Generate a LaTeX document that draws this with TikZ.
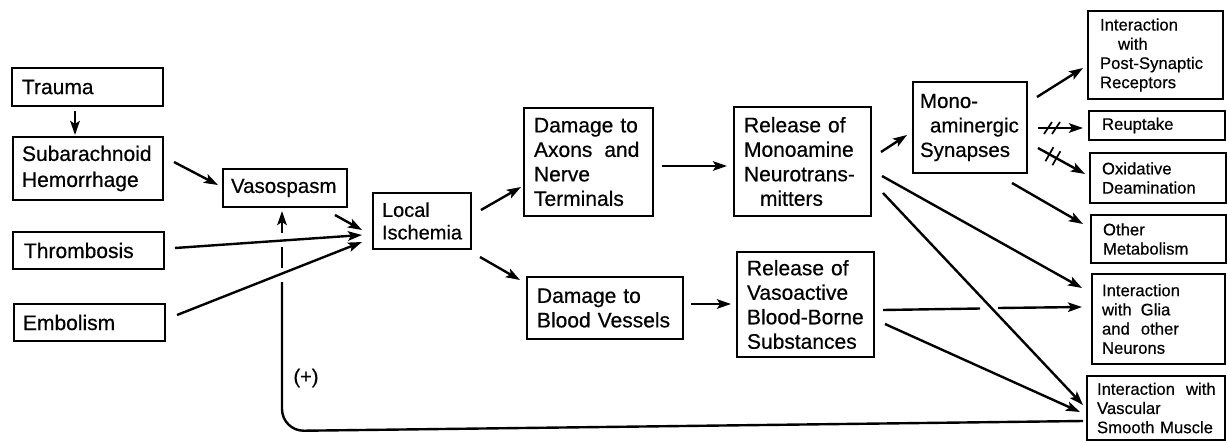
\documentclass[tikz,border=0pt]{standalone}
\usepackage{fontspec}
\setmainfont{Liberation Sans}[FakeBold=0.5]
\usetikzlibrary{arrows.meta}
\hyphenpenalty=10000
\exhyphenpenalty=10000
\begin{document}
\begin{tikzpicture}[x=1pt,y=-1pt,
  box/.style={draw, line width=1.6pt, anchor=north west, align=left, inner ysep=2pt, outer sep=0pt},
  big/.style={font=\fontsize{21}{26}\selectfont},
  mid/.style={font=\fontsize{21}{24.5}\selectfont},
  sml/.style={font=\fontsize{16.7}{19.2}\selectfont},
  arr/.style={line width=2.4pt, -{Stealth[length=14pt,width=9.5pt,inset=3pt]}},
  ln/.style={line width=2.4pt},
  hash/.style={line width=1.7pt}]
\fill[white] (0,0) rectangle (1227,442);
\useasboundingbox (0,0) rectangle (1227,442);

% left column
\node[box,big,inner xsep=10pt,text width=131pt,minimum height=38pt] (trauma) at (12,68) {Trauma};
\node[box,big,inner xsep=9pt,text width=132pt,minimum height=63pt] (sub) at (13,137) {Subarachnoid\\Hemorrhage};
\node[box,font=\fontsize{20.5}{25}\selectfont,inner xsep=8pt,text width=108pt,minimum height=38pt] (vaso) at (223,169) {Vasospasm};
\node[box,big,inner xsep=11pt,text width=129pt,minimum height=37pt] (thromb) at (13,232) {Thrombosis};
\node[box,big,inner xsep=9pt,text width=133pt,minimum height=37pt] (embol) at (14,304) {Embolism};
\node[box,font=\fontsize{20}{22.5}\selectfont,inner xsep=9pt,text width=80pt,minimum height=56pt] (local) at (373,193) {Local\\Ischemia};

% middle
\node[box,mid,inner xsep=10pt,text width=109pt,minimum height=108pt] (axons) at (524,108) {Damage~to\\Axons\kern12pt and\\Nerve\\Terminals};
\node[box,mid,inner xsep=10pt,text width=136pt,minimum height=62pt] (blood) at (527,277) {Damage~to\\Blood~Vessels};
\node[box,mid,inner xsep=10pt,text width=117pt,minimum height=109pt] (relmono) at (734,107) {Release~of\\Monoamine\\Neurotrans-\\\hspace*{16pt}mitters};
\node[box,mid,inner xsep=10pt,text width=117pt,minimum height=105pt] (relvaso) at (737,252) {Release~of\\Vasoactive\\Blood-Borne\\Substances};
\node[box,font=\fontsize{20.5}{24.5}\selectfont,inner xsep=7pt,text width=100pt,minimum height=91pt] (mono) at (913,82) {Mono-\\\hspace*{10pt}aminergic\\Synapses};

% right column
\node[box,sml,inner xsep=12pt,text width=111pt,minimum height=88pt] (post) at (1088,11) {Interaction\\\hspace*{18pt}with\\Post-Synaptic\\Receptors};
\node[box,sml,inner xsep=13pt,text width=110pt,minimum height=29pt] (reup) at (1089,111) {Reuptake};
\node[box,sml,inner xsep=12pt,text width=112pt,minimum height=50pt] (oxid) at (1090,153) {Oxidative\\Deamination};
\node[box,sml,inner xsep=12pt,text width=111pt,minimum height=48pt] (other) at (1091,215) {Other\\Metabolism};
\node[box,sml,inner xsep=10pt,text width=113pt,minimum height=90pt] (glia) at (1092,274) {Interaction\\with\kern9pt Glia\\and\kern11pt other\\Neurons};
\node[box,sml,inner xsep=10pt,text width=118pt,minimum height=64pt] (vasc) at (1087,376) {Interaction\kern11pt with\\Vascular\\Smooth~Muscle};

\node[font=\fontsize{20}{24}\selectfont] (plus) at (306,378) {(+)};

% connectors
\draw[arr] ([shift={(63,43)}]trauma.north west) -- ([shift={(62,-2)}]sub.north west);
\draw[arr] ([shift={(161,25)}]sub.north west) -- ([shift={(-5,16)}]vaso.north west);
\draw[arr] ([shift={(112,46)}]vaso.north west) -- ([shift={(-11,37)}]local.north west);
\draw[arr] ([shift={(162,16)}]thromb.north west) -- ([shift={(-11,42)}]local.north west);
\draw[arr] ([shift={(163,11)}]embol.north west) -- ([shift={(-11,49)}]local.north west);
\draw[arr] ([shift={(108,17)}]local.north west) -- ([shift={(-3,79)}]axons.north west);
\draw[arr] ([shift={(107,64)}]local.north west) -- ([shift={(-7,3)}]blood.north west);
\draw[arr] ([shift={(138,58)}]axons.north west) -- ([shift={(-7,59)}]relmono.north west);
\draw[arr] ([shift={(164,27)}]blood.north west) -- ([shift={(-6,52)}]relvaso.north west);
\draw[arr] ([shift={(147,45)}]relmono.north west) -- ([shift={(-6,53)}]mono.north west);
\draw[arr] ([shift={(124,15)}]mono.north west) -- ([shift={(-5,57)}]post.north west);
\draw[arr] ([shift={(125,46)}]mono.north west) -- ([shift={(-6,17)}]reup.north west);
\draw[arr] ([shift={(125,66)}]mono.north west) -- ([shift={(-5,21)}]oxid.north west);
\draw[arr] ([shift={(99,101)}]mono.north west) -- ([shift={(-8,9)}]other.north west);
\draw[arr] ([shift={(148,69)}]relmono.north west) -- ([shift={(-10,14)}]glia.north west);
\draw[arr] ([shift={(149,86)}]relmono.north west) -- ([shift={(-4,29)}]vasc.north west);
\draw[arr] ([shift={(148,72)}]relvaso.north west) -- ([shift={(-7,36)}]vasc.north west);

% broken connector relvaso -> glia
\coordinate (g1) at (980,308.5);
\coordinate (g2) at (998,308);
\draw[ln] ([shift={(146,58)}]relvaso.north west) -- (g1);
\draw[arr] (g2) -- ([shift={(-10,33)}]glia.north west);

% blocking marks
\draw[hash] (1044,134) -- (1052,122);
\draw[hash] (1052,134) -- (1060,122);
\draw[hash] (1045.4,161.3) -- (1053.4,147.3);
\draw[hash] (1052.4,165.2) -- (1060.4,151.2);

% feedback loop vasc -> vaso
\coordinate (fc) at (282,431);
\coordinate (f1) at (282,282);
\coordinate (f2) at (282,268);
\coordinate (f3) at (282,247);
\coordinate (f4) at (282,233);
\draw[ln, rounded corners=22pt] ([shift={(-4,45)}]vasc.north west) -- (fc) -- (f1);
\draw[ln] (f2) -- (f3);
\draw[arr] (f4) -- ([shift={(59,42)}]vaso.north west);
\end{tikzpicture}
\end{document}
